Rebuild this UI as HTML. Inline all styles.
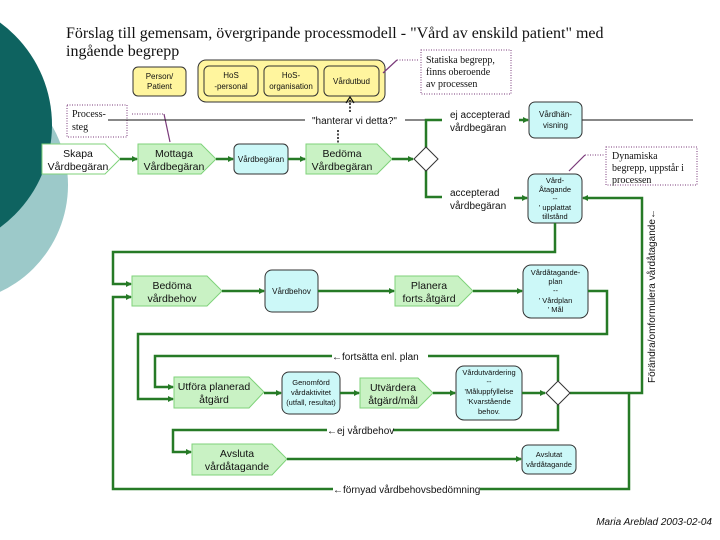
<!DOCTYPE html>
<html><head><meta charset="utf-8"><style>
html,body{margin:0;padding:0;background:#fff;}
svg{display:block;}
text{font-family:"Liberation Sans",sans-serif;fill:#111;}
.serif{font-family:"Liberation Serif",serif;}
.g{stroke:#267a26;stroke-width:2.5;fill:none;}
.pent{fill:#c9f2c4;stroke:#7fd27a;stroke-width:1;}
.blue{fill:#ccf8f8;stroke:#333;stroke-width:1;}
.yel{fill:#fff59e;stroke:#333;stroke-width:1;}
.dot{fill:none;stroke:#7a3a7a;stroke-width:1;stroke-dasharray:1,1.5;}
</style></head><body>
<svg width="720" height="540" viewBox="0 0 720 540" xmlns="http://www.w3.org/2000/svg">
<defs>
<marker id="a" markerWidth="6" markerHeight="6" refX="5" refY="3" orient="auto" markerUnits="userSpaceOnUse">
<path d="M0,0 L6,3 L0,6 Z" fill="#267a26"/></marker>
</defs>
<circle cx="-50" cy="185" r="118" fill="#9cc9c9"/>
<circle cx="-75" cy="125" r="127" fill="#0e6360"/>

<text class="serif" x="66" y="38" font-size="16">Förslag till gemensam, övergripande processmodell - "Vård av enskild patient" med</text>
<text class="serif" x="66" y="56" font-size="16">ingående begrepp</text>

<!-- top yellow -->
<rect class="yel" x="133" y="67" width="53" height="29" rx="5"/>
<text x="159.5" y="79" font-size="8" text-anchor="middle">Person/</text>
<text x="159.5" y="89" font-size="8" text-anchor="middle">Patient</text>
<rect class="yel" x="198" y="60" width="187" height="42" rx="8"/>
<rect class="yel" x="204" y="66" width="54" height="30" rx="5"/>
<text x="231" y="78" font-size="8" text-anchor="middle">HoS</text>
<text x="231" y="89" font-size="8" text-anchor="middle">-personal</text>
<rect class="yel" x="264" y="66" width="54" height="30" rx="5"/>
<text x="291" y="78" font-size="8" text-anchor="middle">HoS-</text>
<text x="291" y="89" font-size="8" text-anchor="middle">organisation</text>
<rect class="yel" x="324" y="66" width="55" height="30" rx="5"/>
<text x="351.5" y="84" font-size="8" text-anchor="middle">Vårdutbud</text>

<!-- Statiska -->
<rect class="dot" x="421" y="50" width="90" height="44" style="stroke-dasharray:1,1.5"/>
<path d="M383,73 L397,60" stroke="#7a3a7a" stroke-width="1.2"/>
<path class="dot" d="M397,60 L419,60"/>
<text class="serif" x="426" y="63" font-size="10">Statiska begrepp,</text>
<text class="serif" x="426" y="75" font-size="10">finns oberoende</text>
<text class="serif" x="426" y="87" font-size="10">av processen</text>

<!-- Process-steg -->
<rect class="dot" x="67" y="105" width="60" height="32"/>
<text class="serif" x="72" y="117" font-size="10">Process-</text>
<text class="serif" x="72" y="130" font-size="10">steg</text>
<path class="dot" d="M132,114 L164,114"/>
<path d="M164,114 L170,142" stroke="#7a3a7a" stroke-width="1.2"/>

<!-- black line -->
<path d="M108,120 L305,120 M405,120 L428,120 M582,120 L693,120" stroke="#111" stroke-width="1"/>
<text x="312" y="124" font-size="10">"hanterar vi detta?"</text>
<path d="M350,112 L350,100" stroke="#111" stroke-width="1.5" stroke-dasharray="2,1.5"/>
<path d="M346,103 L350,97 L354,103" fill="none" stroke="#111" stroke-width="1.2"/>
<path d="M338,130 L338,144" stroke="#111" stroke-width="1.5" stroke-dasharray="2,1.5"/>

<!-- row 1 -->
<polygon points="42,144 105,144 120,159 105,174 42,174" fill="#fff" stroke="#7fd27a"/>
<text x="78" y="157" font-size="10.5" text-anchor="middle">Skapa</text>
<text x="78" y="170" font-size="10.5" text-anchor="middle">Vårdbegäran</text>
<polygon class="pent" points="138,144 201,144 216,159 201,174 138,174"/>
<text x="174" y="157" font-size="10.5" text-anchor="middle">Mottaga</text>
<text x="174" y="170" font-size="10.5" text-anchor="middle">Vårdbegäran</text>
<rect class="blue" x="234" y="144" width="54" height="30" rx="5"/>
<text x="261" y="162" font-size="8" text-anchor="middle">Vårdbegäran</text>
<polygon class="pent" points="306,144 377,144 392,159 377,174 306,174"/>
<text x="342" y="157" font-size="10.5" text-anchor="middle">Bedöma</text>
<text x="342" y="170" font-size="10.5" text-anchor="middle">Vårdbegäran</text>
<path class="g" d="M120,159 L137,159" marker-end="url(#a)"/>
<path class="g" d="M216,159 L233,159" marker-end="url(#a)"/>
<path class="g" d="M288,159 L305,159" marker-end="url(#a)"/>
<path class="g" d="M392,159 L413,159" marker-end="url(#a)"/>
<path class="g" d="M442,120 L426,120 L426,197 L442,197"/>
<polygon points="426,147 438,159 426,171 414,159" fill="#fff" stroke="#333"/>
<text x="450" y="118" font-size="10">ej accepterad</text>
<text x="450" y="131" font-size="10">vårdbegäran</text>
<text x="450" y="196" font-size="10">accepterad</text>
<text x="450" y="209" font-size="10">vårdbegäran</text>
<path class="g" d="M519,120 L528,120" marker-end="url(#a)"/>
<path class="g" d="M514,198 L527,198" marker-end="url(#a)"/>
<rect class="blue" x="529" y="102" width="53" height="36" rx="6"/>
<text x="555.5" y="117" font-size="8" text-anchor="middle">Vårdhän-</text>
<text x="555.5" y="128" font-size="8" text-anchor="middle">visning</text>
<rect class="blue" x="528" y="174" width="54" height="49" rx="7"/>
<text x="555" y="183" font-size="7.5" text-anchor="middle">Vård-</text>
<text x="555" y="192" font-size="7.5" text-anchor="middle">Åtagande</text>
<text x="555" y="201" font-size="7.5" text-anchor="middle">--</text>
<text x="555" y="210" font-size="7.5" text-anchor="middle">' upplattat</text>
<text x="555" y="219" font-size="7.5" text-anchor="middle">tillstånd</text>

<!-- Dynamiska -->
<rect class="dot" x="606" y="147" width="91" height="38"/>
<path d="M569,171 L585,155" stroke="#7a3a7a" stroke-width="1.2"/>
<path class="dot" d="M585,155 L604,155"/>
<text class="serif" x="612" y="159" font-size="10">Dynamiska</text>
<text class="serif" x="612" y="171" font-size="10">begrepp, uppstår i</text>
<text class="serif" x="612" y="183" font-size="10">processen</text>

<!-- right vertical -->
<path class="g" d="M629,393 L642,393 L642,198 L583,198" marker-end="url(#a)"/>
<text transform="translate(655,383) rotate(-90)" font-size="10" textLength="174" lengthAdjust="spacingAndGlyphs">Förändra/omformulera vårdåtagande←</text>

<!-- loop to row 2 -->
<path class="g" d="M555,223 L555,252 L113,252 L113,284 L131,284" marker-end="url(#a)"/>
<path class="g" d="M629,393 L629,489 L480,489 M333,489 L113,489 L113,297 L131,297" marker-end="url(#a)"/>
<text x="333" y="493" font-size="10">←förnyad vårdbehovsbedömning</text>

<!-- row 2 -->
<polygon class="pent" points="132,276 207,276 222,291 207,306 132,306"/>
<text x="172" y="289" font-size="10.5" text-anchor="middle">Bedöma</text>
<text x="172" y="302" font-size="10.5" text-anchor="middle">vårdbehov</text>
<rect class="blue" x="265" y="270" width="53" height="42" rx="7"/>
<text x="291.5" y="294" font-size="8" text-anchor="middle">Vårdbehov</text>
<polygon class="pent" points="395,276 458,276 473,291 458,306 395,306"/>
<text x="429" y="289" font-size="10.5" text-anchor="middle">Planera</text>
<text x="429" y="302" font-size="10.5" text-anchor="middle">forts.åtgärd</text>
<rect class="blue" x="523" y="265" width="65" height="53" rx="8"/>
<text x="555.5" y="275" font-size="7.5" text-anchor="middle">Vårdåtagande-</text>
<text x="555.5" y="284" font-size="7.5" text-anchor="middle">plan</text>
<text x="555.5" y="293" font-size="7.5" text-anchor="middle">--</text>
<text x="555.5" y="303" font-size="7.5" text-anchor="middle">' Vårdplan</text>
<text x="555.5" y="312" font-size="7.5" text-anchor="middle">' Mål</text>
<path class="g" d="M222,291 L264,291" marker-end="url(#a)"/>
<path class="g" d="M318,291 L394,291" marker-end="url(#a)"/>
<path class="g" d="M473,291 L522,291" marker-end="url(#a)"/>
<path class="g" d="M588,291 L607,291 L607,334 L138,334 L138,399 L173,399" marker-end="url(#a)"/>

<!-- row 3 -->
<path class="g" d="M558,381 L558,356 L428,356 M332,356 L155,356 L155,387 L173,387" marker-end="url(#a)"/>
<text x="332" y="360" font-size="10">←fortsätta enl. plan</text>
<polygon class="pent" points="174,377 249,377 264,392 249,408 174,408"/>
<text x="214" y="390" font-size="10.5" text-anchor="middle">Utföra planerad</text>
<text x="214" y="403" font-size="10.5" text-anchor="middle">åtgärd</text>
<rect class="blue" x="282" y="372" width="58" height="42" rx="7"/>
<text x="311" y="385" font-size="7.5" text-anchor="middle">Genomförd</text>
<text x="311" y="395" font-size="7.5" text-anchor="middle">vårdaktivitet</text>
<text x="311" y="405" font-size="7.5" text-anchor="middle">(utfall, resultat)</text>
<polygon class="pent" points="360,378 418,378 433,393 418,408 360,408"/>
<text x="393" y="391" font-size="10.5" text-anchor="middle">Utvärdera</text>
<text x="393" y="404" font-size="10.5" text-anchor="middle">åtgärd/mål</text>
<rect class="blue" x="456" y="366" width="66" height="54" rx="8"/>
<text x="489" y="375" font-size="7.5" text-anchor="middle">Vårdutvärdering</text>
<text x="489" y="384" font-size="7.5" text-anchor="middle">--</text>
<text x="489" y="394" font-size="7.5" text-anchor="middle">'Måluppfyllelse</text>
<text x="489" y="404" font-size="7.5" text-anchor="middle">'Kvarstående</text>
<text x="489" y="414" font-size="7.5" text-anchor="middle">behov.</text>
<path class="g" d="M264,393 L281,393" marker-end="url(#a)"/>
<path class="g" d="M340,393 L359,393" marker-end="url(#a)"/>
<path class="g" d="M433,393 L455,393" marker-end="url(#a)"/>
<path class="g" d="M522,393 L545,393" marker-end="url(#a)"/>
<path class="g" d="M570,393 L629,393"/>
<path class="g" d="M558,405 L558,430 L393,430 M327,430 L173,430 L173,452 L191,452" marker-end="url(#a)"/>
<polygon points="558,381 570,393 558,405 546,393" fill="#fff" stroke="#333"/>
<text x="327" y="434" font-size="10">←ej vårdbehov</text>

<!-- row 4 -->
<polygon class="pent" points="192,444 272,444 287,459 272,475 192,475"/>
<text x="237" y="457" font-size="10.5" text-anchor="middle">Avsluta</text>
<text x="237" y="470" font-size="10.5" text-anchor="middle">vårdåtagande</text>
<rect class="blue" x="522" y="445" width="54" height="29" rx="6"/>
<text x="549" y="457" font-size="7.5" text-anchor="middle">Avslutat</text>
<text x="549" y="467" font-size="7.5" text-anchor="middle">vårdåtagande</text>
<path class="g" d="M287,459 L521,459" marker-end="url(#a)"/>

<text x="712" y="525" font-size="10" font-style="italic" text-anchor="end">Maria Areblad 2003-02-04</text>
</svg>
</body></html>
